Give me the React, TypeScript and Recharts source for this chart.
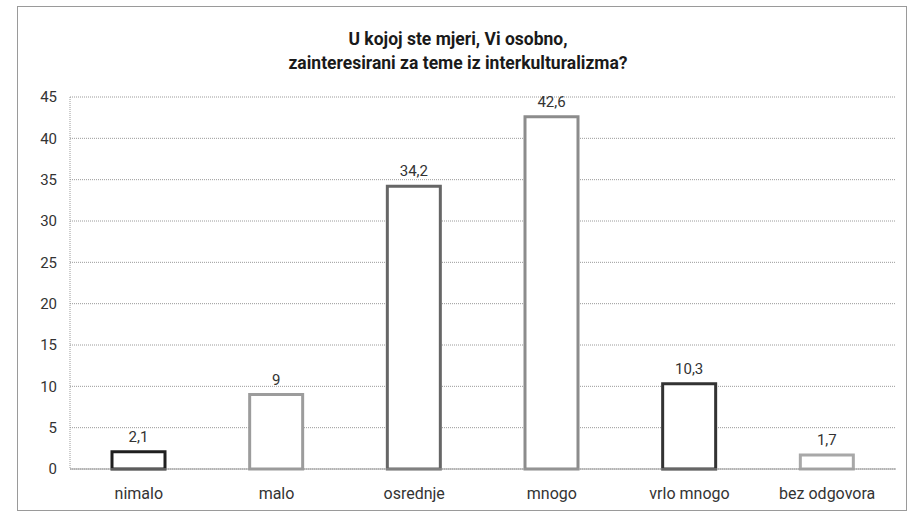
import { BarChart, Bar, XAxis, YAxis, CartesianGrid, Cell, LabelList } from 'recharts';

const categories = ['nimalo', 'malo', 'osrednje', 'mnogo', 'vrlo mnogo', 'bez odgovora'];
const values = [2.1, 9, 34.2, 42.6, 10.3, 1.7];
const yTicks = [0, 5, 10, 15, 20, 25, 30, 35, 40, 45];
const outlines = ['#1f1f1f', '#9c9c9c', '#666666', '#8c8c8c', '#333333', '#a8a8a8'];

const data = categories.map((name, i) => ({ name, value: values[i] }));

const font = 'Roboto, "Open Sans", sans-serif';

export default function App() {
  return (
    <div style={{ position: 'absolute', left: 0, top: 0, width: 916, height: 515, background: '#fff', fontFamily: font }}>
      <div
        style={{
          position: 'absolute',
          left: 17,
          top: 6,
          width: 890,
          height: 505,
          border: '1px solid #9a9a9a',
          boxSizing: 'border-box',
        }}
      />
      <div
        style={{
          position: 'absolute',
          left: 0,
          top: 27,
          width: 916,
          textAlign: 'center',
          fontSize: 17.5,
          fontWeight: 700,
          lineHeight: '24px',
          color: '#1a1a1a',
        }}
      >
        U kojoj ste mjeri, Vi osobno,
        <br />
        zainteresirani za teme iz interkulturalizma?
      </div>
      <BarChart
        width={916}
        height={515}
        data={data}
        margin={{ top: 97, right: 20, bottom: 16, left: 0 }}
        barCategoryGap="29%"
      >
        <CartesianGrid vertical={false} stroke="#9a9a9a" strokeDasharray="1 1" />
        <XAxis
          dataKey="name"
          tickLine={false}
          axisLine={{ stroke: '#9a9a9a' }}
          tick={{ fill: '#333', fontSize: 16, fontFamily: font }}
          tickMargin={13}
          interval={0}
        />
        <YAxis
          domain={[0, 45]}
          ticks={yTicks}
          width={70}
          tickLine={false}
          axisLine={{ stroke: '#9a9a9a', strokeDasharray: '1 1' }}
          tick={{ fill: '#333', fontSize: 15, fontFamily: font }}
          tickMargin={7}
        />
        <Bar dataKey="value" fill="#fff" strokeWidth={3} barSize={53} isAnimationActive={false}>
          {data.map((d, i) => (
            <Cell key={d.name} stroke={outlines[i]} />
          ))}
          <LabelList
            dataKey="value"
            position="top"
            offset={10}
            fill="#333"
            fontSize={15}
            fontFamily={font}
            formatter={(v: any) => String(v).replace('.', ',')}
          />
        </Bar>
      </BarChart>
    </div>
  );
}
